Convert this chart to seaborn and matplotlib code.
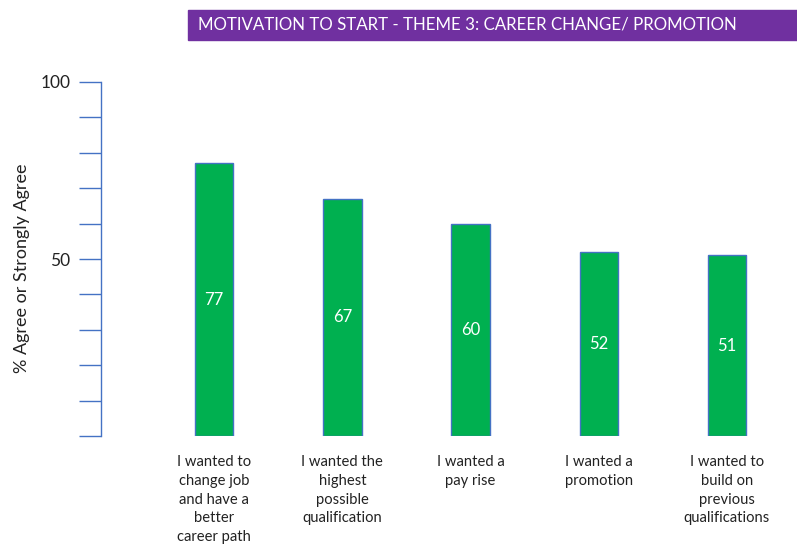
import matplotlib
matplotlib.use("Agg")
import matplotlib.pyplot as plt
import seaborn as sns
import pandas as pd

categories = [
    "I wanted to\nchange job\nand have a\nbetter\ncareer path",
    "I wanted the\nhighest\npossible\nqualification",
    "I wanted a\npay rise",
    "I wanted a\npromotion",
    "I wanted to\nbuild on\nprevious\nqualifications",
]
values = [77, 67, 60, 52, 51]
y_ticks = list(range(0, 101, 10))
y_tick_labels = ["" if t not in (50, 100) else str(t) for t in y_ticks]

title = "MOTIVATION TO START - THEME 3: CAREER CHANGE/ PROMOTION"
y_label = "% Agree or Strongly Agree"

sns.set_theme(style="white")
plt.rcParams["font.family"] = ["Lato", "DejaVu Sans"]

df = pd.DataFrame({"reason": categories, "pct": values})

W, H = 797, 544
fig = plt.figure(figsize=(W / 100, H / 100), dpi=100)
ax = fig.add_axes([101 / W, (H - 436) / H, (791 - 101) / W, (436 - 82) / H])

sns.barplot(data=df, x="reason", y="pct", ax=ax, color="#00B050",
            width=0.3, edgecolor="#4472C4", linewidth=1, saturation=1)

for p, v in zip(ax.patches, values):
    ax.text(p.get_x() + p.get_width() / 2, v / 2, str(v), color="white",
            ha="center", va="center", fontsize=12)

ax.set_ylim(0, 100)
ax.set_xlim(-0.883, 4.5)
ax.set_yticks(y_ticks)
ax.set_yticklabels(y_tick_labels, fontsize=12.5, color="#222222")
ax.tick_params(axis="y", direction="out", length=16, width=1,
               color="#4472C4", left=True, pad=6)
ax.tick_params(axis="x", length=0, pad=14, labelsize=10.6, labelcolor="#222222")
ax.set_xlabel("")
ax.set_ylabel("")
for side in ["top", "right", "bottom"]:
    ax.spines[side].set_visible(False)
ax.spines["left"].set_color("#4472C4")
ax.spines["left"].set_linewidth(1)
for lbl in ax.get_xticklabels():
    lbl.set_va("top")
    lbl.set_linespacing(1.42)

fig.text(22 / W, 1 - 268 / H, y_label, rotation=90, ha="center", va="center",
         fontsize=13, color="#222222")

# purple banner title
fig.patches.append(plt.Rectangle((188 / W, 1 - 40 / H), (797 - 188) / W, 30 / H,
                                 transform=fig.transFigure, color="#7030A0",
                                 zorder=0))
fig.text(198 / W, 1 - 25 / H, title, color="white", ha="left", va="center",
         fontsize=12.2)

fig.savefig("out.png", dpi=100)
